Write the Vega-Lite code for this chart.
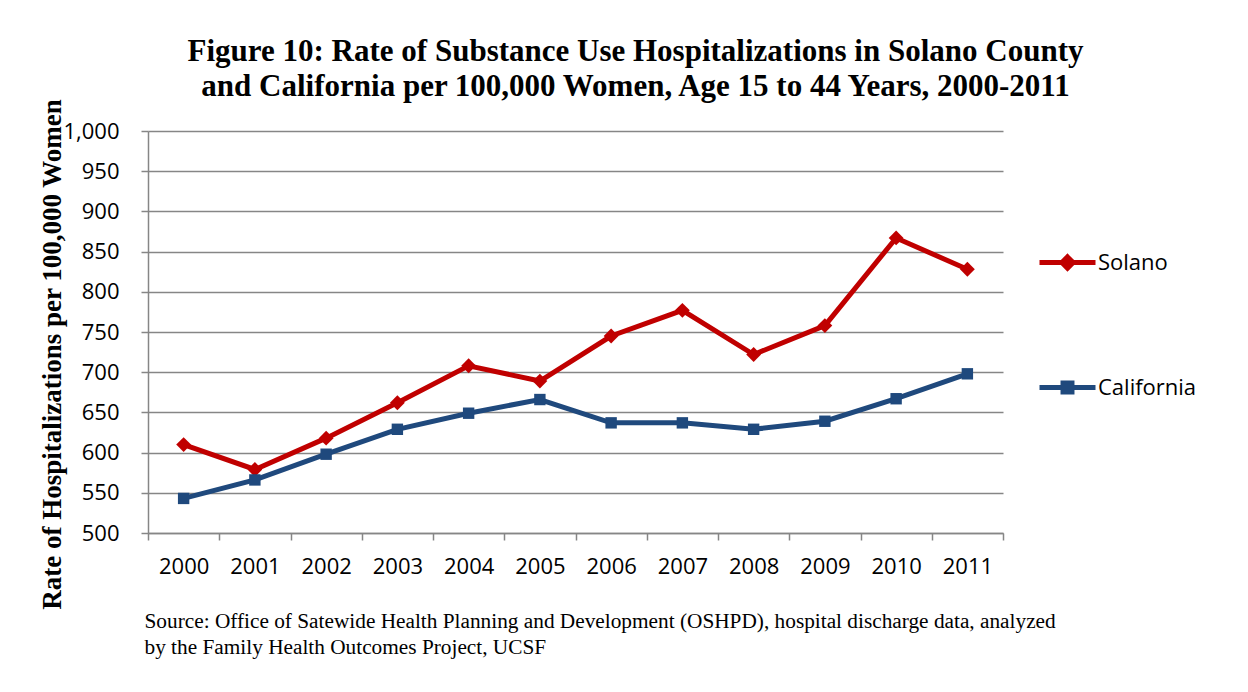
{
  "$schema": "https://vega.github.io/schema/vega-lite/v6.json",
  "width": 855,
  "height": 402,
  "autosize": {"type": "none"},
  "padding": {"left": 148, "top": 131, "right": 245, "bottom": 159},
  "background": "white",
  "title": {
    "text": ["Figure 10: Rate of Substance Use Hospitalizations in Solano County", "and California per 100,000 Women, Age 15 to 44 Years, 2000-2011"],
    "font": "Liberation Serif",
    "fontSize": 31,
    "fontWeight": "bold",
    "color": "black",
    "anchor": "middle",
    "frame": "group",
    "baseline": "bottom",
    "lineHeight": 35,
    "offset": -36,
    "dx": 60
  },
  "data": {
    "values": [
      {"year": "2000", "series": "Solano", "rate": 610},
      {"year": "2001", "series": "Solano", "rate": 579},
      {"year": "2002", "series": "Solano", "rate": 618},
      {"year": "2003", "series": "Solano", "rate": 662},
      {"year": "2004", "series": "Solano", "rate": 708},
      {"year": "2005", "series": "Solano", "rate": 689},
      {"year": "2006", "series": "Solano", "rate": 745},
      {"year": "2007", "series": "Solano", "rate": 777},
      {"year": "2008", "series": "Solano", "rate": 722},
      {"year": "2009", "series": "Solano", "rate": 758},
      {"year": "2010", "series": "Solano", "rate": 867},
      {"year": "2011", "series": "Solano", "rate": 828},
      {"year": "2000", "series": "California", "rate": 543},
      {"year": "2001", "series": "California", "rate": 566},
      {"year": "2002", "series": "California", "rate": 598},
      {"year": "2003", "series": "California", "rate": 629},
      {"year": "2004", "series": "California", "rate": 649},
      {"year": "2005", "series": "California", "rate": 666},
      {"year": "2006", "series": "California", "rate": 637},
      {"year": "2007", "series": "California", "rate": 637},
      {"year": "2008", "series": "California", "rate": 629},
      {"year": "2009", "series": "California", "rate": 639},
      {"year": "2010", "series": "California", "rate": 667},
      {"year": "2011", "series": "California", "rate": 698}
    ]
  },
  "encoding": {
    "x": {
      "field": "year",
      "type": "ordinal",
      "bandPosition": 0.5,
      "scale": {"type": "band", "paddingInner": 0, "paddingOuter": 0},
      "axis": {
        "title": ["Source: Office of Satewide Health Planning and Development (OSHPD), hospital discharge data, analyzed", "by the Family Health Outcomes Project, UCSF"],
        "titleFont": "Liberation Serif",
        "titleFontSize": 21.3,
        "titleFontWeight": "normal",
        "titleColor": "black",
        "titleAnchor": "start",
        "titleAlign": "left",
        "titleBaseline": "alphabetic",
        "titleX": -4,
        "titleY": 94,
        "titleLineHeight": 26,
        "labelAngle": 0,
        "labelFont": "Open Sans",
        "labelFontSize": 22,
        "labelColor": "black",
        "labelPadding": 16,
        "tickBand": "extent",
        "tickSize": 7,
        "tickColor": "#868686",
        "tickWidth": 1.5,
        "domainColor": "#868686",
        "domainWidth": 1.5,
        "grid": false
      }
    },
    "y": {
      "field": "rate",
      "type": "quantitative",
      "scale": {"domain": [500, 1000], "nice": false, "zero": false},
      "axis": {
        "title": "Rate of Hospitalizations per 100,000 Women",
        "titleFont": "Liberation Serif",
        "titleFontSize": 27,
        "titleFontWeight": "bold",
        "titleColor": "black",
        "titleAlign": "center",
        "titleBaseline": "alphabetic",
        "titleX": -88,
        "titleY": 223,
        "values": [500, 550, 600, 650, 700, 750, 800, 850, 900, 950, 1000],
        "format": ",d",
        "labelFont": "Open Sans",
        "labelFontSize": 22,
        "labelColor": "black",
        "labelPadding": 22,
        "tickSize": 7,
        "tickColor": "#868686",
        "tickWidth": 1.5,
        "domainColor": "#868686",
        "domainWidth": 1.5,
        "grid": true,
        "gridColor": "#868686",
        "gridWidth": 1.5
      }
    },
    "color": {
      "field": "series",
      "type": "nominal",
      "scale": {"domain": ["Solano", "California"], "range": ["#C00000", "#1F497D"]},
      "legend": {
        "title": null,
        "orient": "none",
        "legendX": 889,
        "legendY": 101,
        "direction": "vertical",
        "symbolType": "M-1,0H1",
        "symbolSize": 3136,
        "symbolStrokeWidth": 5,
        "labelFont": "Open Sans",
        "labelFontSize": 22,
        "labelColor": "black",
        "labelOffset": 0,
        "rowPadding": 78,
        "encode": {
          "symbols": {
            "update": {
              "shape": {"signal": "datum.value === 'Solano' ? 'M-1,0H1M0,-0.2L0.2,0L0,0.2L-0.2,0Z' : 'M-1,0H1M-0.16,-0.16H0.16V0.16H-0.16Z'"},
              "fill": {"signal": "datum.value === 'Solano' ? '#C00000' : '#1F497D'"},
              "fillOpacity": {"value": 1},
              "strokeWidth": {"value": 5}
            }
          }
        }
      }
    }
  },
  "layer": [
    {
      "mark": {"type": "line", "strokeWidth": 5}
    },
    {
      "transform": [{"filter": "datum.series === 'Solano'"}],
      "mark": {"type": "point", "filled": true, "opacity": 1, "shape": "diamond", "size": 220}
    },
    {
      "transform": [{"filter": "datum.series === 'California'"}],
      "mark": {"type": "point", "filled": true, "opacity": 1, "shape": "square", "size": 130}
    }
  ],
  "config": {
    "view": {"stroke": null}
  }
}
